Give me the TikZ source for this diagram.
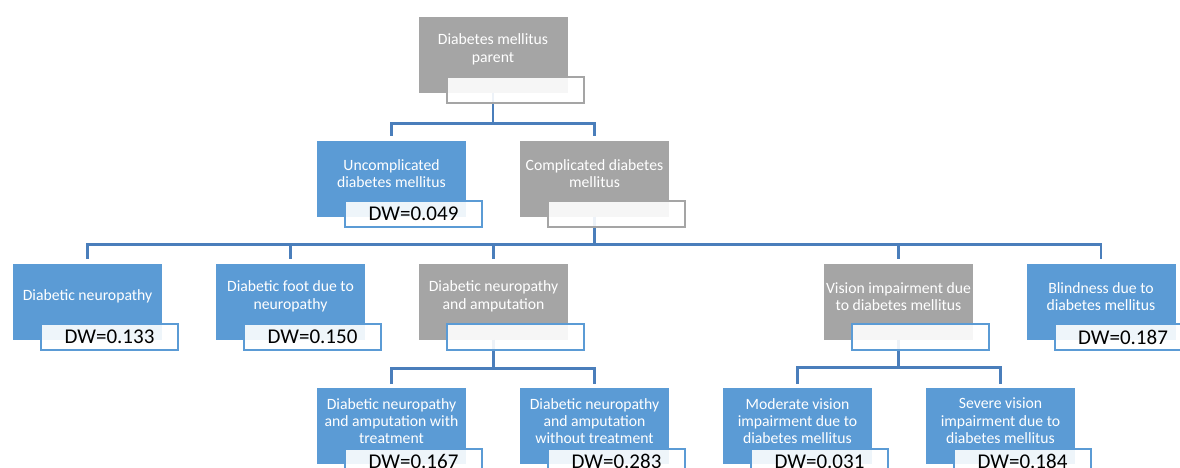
\documentclass[tikz,border=0pt]{standalone}
\usepackage{fontspec}
\setmainfont{Carlito}
\definecolor{boxblue}{HTML}{5B9BD5}
\definecolor{boxgray}{HTML}{A5A5A5}
\definecolor{linkblue}{HTML}{4A7EBB}
\begin{document}
\begin{tikzpicture}[x=1pt,y=-1pt,
  mainbox/.style={rectangle, minimum width=149pt, minimum height=76pt, inner sep=0pt},
  bluebox/.style={mainbox, fill=boxblue},
  graybox/.style={mainbox, fill=boxgray},
  boxtext/.style={text=white, align=center, font=\fontsize{15.7}{17.4}\selectfont, inner sep=0pt},
  labbox/.style={rectangle, minimum width=137pt, minimum height=26pt, inner sep=0pt, line width=2pt, fill=white, fill opacity=0.9, text opacity=1, font=\fontsize{21}{24}\selectfont},
  bluelab/.style={labbox, draw=boxblue},
  graylab/.style={labbox, draw=boxgray},
  link/.style={draw=linkblue, line width=2.5pt}
]
\useasboundingbox (0,0) rectangle (1180,467);

% main boxes
\node[graybox] (top) at (493,54.5) {};
\node[bluebox] (unc) at (391.5,178.5) {};
\node[graybox] (comp) at (594.5,178.5) {};
\node[bluebox] (dn) at (87.5,301.5) {};
\node[bluebox] (df) at (290.5,301.5) {};
\node[graybox] (dna) at (493.5,301.5) {};
\node[graybox] (vi) at (898.5,301.5) {};
\node[bluebox] (bl) at (1101,301.5) {};
\node[bluebox] (dnaw) at (391.5,426) {};
\node[bluebox] (dnawo) at (594.5,426) {};
\node[bluebox] (mvi) at (797.5,426) {};
\node[bluebox] (svi) at (1000.5,426) {};

% box texts
\node[boxtext] (ttop) at ([yshift=5pt]top.center) {Diabetes mellitus\\parent};
\node[boxtext] (tunc) at ([yshift=5pt]unc.center) {Uncomplicated\\diabetes mellitus};
\node[boxtext] (tcomp) at ([yshift=5pt]comp.center) {Complicated diabetes\\mellitus};
\node[boxtext] (tdn) at ([yshift=5pt]dn.center) {Diabetic neuropathy};
\node[boxtext] (tdf) at ([yshift=5pt]df.center) {Diabetic foot due to\\neuropathy};
\node[boxtext] (tdna) at ([yshift=5pt]dna.center) {Diabetic neuropathy\\and amputation};
\node[boxtext] (tvi) at ([yshift=5pt]vi.center) {Vision impairment due\\to diabetes mellitus};
\node[boxtext] (tbl) at ([yshift=5pt]bl.center) {Blindness due to\\diabetes mellitus};
\node[boxtext] (tdnaw) at ([yshift=5pt]dnaw.center) {Diabetic neuropathy\\and amputation with\\treatment};
\node[boxtext] (tdnawo) at ([yshift=5pt]dnawo.center) {Diabetic neuropathy\\and amputation\\without treatment};
\node[boxtext] (tmvi) at ([yshift=5pt]mvi.center) {Moderate vision\\impairment due to\\diabetes mellitus};
\node[boxtext] (tsvi) at ([yshift=5pt]svi.center) {Severe vision\\impairment due to\\diabetes mellitus};

% connectors
\draw[link] (top.south) -- ++(0,31) -| ([yshift=4pt]unc.north);
\draw[link] (top.south) -- ++(0,31) -| ([yshift=4pt]comp.north);
\foreach \c in {dn,df,dna,vi,bl}
  \draw[link] (comp.south) -- ++(0,28) -| ([yshift=4pt]\c.north);
\foreach \c in {dnaw,dnawo}
  \draw[link] (dna.south) -- ++(0,29) -| ([yshift=4pt]\c.north);
\foreach \c in {mvi,svi}
  \draw[link] (vi.south) -- ++(0,28) -| ([yshift=4pt]\c.north);

% label boxes
\node[graylab] (ltop) at ([xshift=22pt,yshift=2.5pt]top.south) {};
\node[bluelab] (lunc) at ([xshift=22pt,yshift=2.5pt]unc.south) {DW=0.049};
\node[graylab] (lcomp) at ([xshift=22pt,yshift=2.5pt]comp.south) {};
\node[bluelab] (ldn) at ([xshift=22pt,yshift=2.5pt]dn.south) {DW=0.133};
\node[bluelab] (ldf) at ([xshift=22pt,yshift=2.5pt]df.south) {DW=0.150};
\node[bluelab] (ldna) at ([xshift=22pt,yshift=2.5pt]dna.south) {};
\node[bluelab] (lvi) at ([xshift=22pt,yshift=2.5pt]vi.south) {};
\node[bluelab] (lbl) at ([xshift=22pt,yshift=2.5pt]bl.south) {DW=0.187};
\node[bluelab] (ldnaw) at ([xshift=22pt,yshift=2.5pt]dnaw.south) {DW=0.167};
\node[bluelab] (ldnawo) at ([xshift=22pt,yshift=2.5pt]dnawo.south) {DW=0.283};
\node[bluelab] (lmvi) at ([xshift=22pt,yshift=2.5pt]mvi.south) {DW=0.031};
\node[bluelab] (lsvi) at ([xshift=22pt,yshift=2.5pt]svi.south) {DW=0.184};
\end{tikzpicture}
\end{document}
